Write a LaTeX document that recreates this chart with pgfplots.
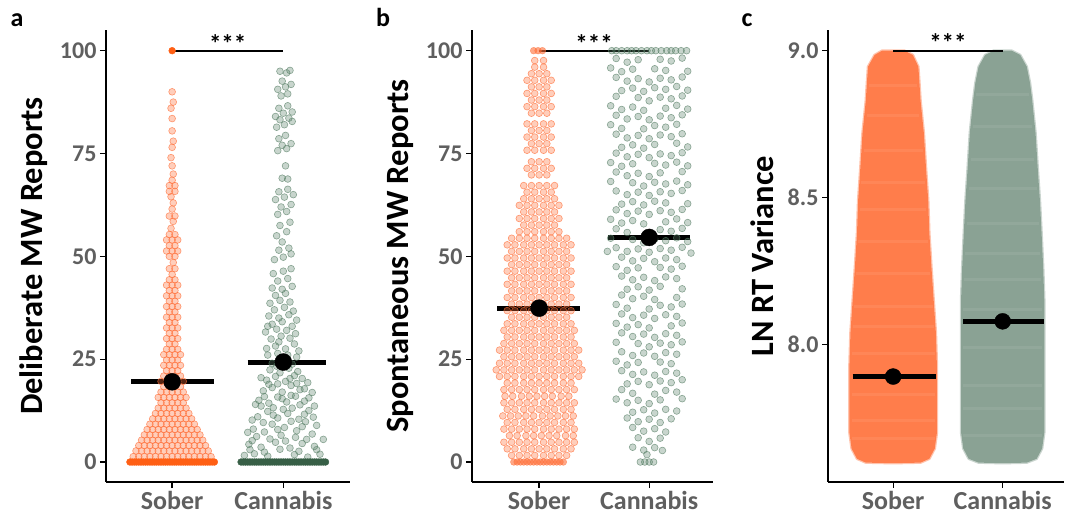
\documentclass[border=0pt]{standalone}
\usepackage{pgfplots}
\pgfplotsset{compat=1.18}
\usepackage{fontspec}
\setmainfont{Carlito}
\definecolor{sober}{RGB}{255,110,55}
\definecolor{soberdark}{RGB}{255,95,20}
\definecolor{canna}{RGB}{85,125,100}
\definecolor{cannadark}{RGB}{55,95,70}
\definecolor{soberfill}{RGB}{255,125,75}
\definecolor{cannafill}{RGB}{138,162,148}
\definecolor{tickgray}{RGB}{95,95,95}
\newcommand\tickfont{\fontsize{24}{24}\selectfont\bfseries}
\newcommand\xtickfont{\fontsize{26}{26}\selectfont\bfseries}
\newcommand\labfont{\fontsize{32.5}{32.5}\selectfont\bfseries}
\newcommand\starfont{\fontsize{25}{25}\selectfont\bfseries}
\newcommand\panfont{\fontsize{26}{26}\selectfont\bfseries}
\pgfplotsset{
  panel/.style={scale only axis, height=452pt, anchor=south west,
    axis x line*=bottom, axis y line*=left,
    axis line style={line width=1.3pt, black},
    tick style={line width=1.3pt, black},
    major tick length=6pt, tick align=outside,
    xtick={1,2}, xticklabels={Sober,Cannabis},
    yticklabel style={font=\tickfont, text=tickgray},
    xticklabel style={font=\xtickfont, text=tickgray},
    unbounded coords=jump,
    clip=false},
  sobpts/.style={only marks, mark=*, mark size=3.4pt, draw=sober, fill=sober, fill opacity=0.34, draw opacity=0.68, line width=0.6pt},
  canpts/.style={only marks, mark=*, mark size=3.4pt, draw=canna, fill=canna, fill opacity=0.32, draw opacity=0.65, line width=0.6pt},
}
\begin{document}
\begin{tikzpicture}
\path[use as bounding box] (0,0) rectangle (1067pt,516pt);
\node[font=\panfont, anchor=base] at (17pt,489pt) {a};
\node[font=\panfont, anchor=base] at (383pt,489pt) {b};
\node[font=\panfont, anchor=base] at (747pt,489pt) {c};

% ---------------- panel a ----------------
\begin{axis}[panel, at={(106pt,34pt)}, width=244pt,
  xmin=0.405, xmax=2.6, ymin=-4.86, ymax=105.03,
  ytick={0,25,50,75,100}, yticklabels={0,25,50,75,100},
  ylabel={Deliberate MW Reports},
  every axis y label/.style={at={(axis description cs:-0.295,0.5)}, rotate=90, anchor=center, font=\labfont}]
\addplot[sobpts] coordinates {
(0.65,1.3)(0.70,1.3)(0.75,1.3)(0.80,1.3)(0.85,1.3)(0.90,1.3)(0.95,1.3)(1,1.3)(1.05,1.3)(1.10,1.3)(1.15,1.3)(1.20,1.3)(1.25,1.3)(1.30,1.3)(1.35,1.3)
(0.675,2.7)(0.725,2.7)(0.775,2.7)(0.825,2.7)(0.875,2.7)(0.925,2.7)(0.975,2.7)(1.025,2.7)(1.075,2.7)(1.125,2.7)(1.175,2.7)(1.225,2.7)(1.275,2.7)(1.325,2.7)
(0.70,4)(0.75,4)(0.80,4)(0.85,4)(0.90,4)(0.95,4)(1,4)(1.05,4)(1.10,4)(1.15,4)(1.20,4)(1.25,4)(1.30,4)
(0.725,5.3)(0.775,5.3)(0.825,5.3)(0.875,5.3)(0.925,5.3)(0.975,5.3)(1.025,5.3)(1.075,5.3)(1.125,5.3)(1.175,5.3)(1.225,5.3)(1.275,5.3)
(0.75,6.6)(0.80,6.6)(0.85,6.6)(0.90,6.6)(0.95,6.6)(1,6.6)(1.05,6.6)(1.10,6.6)(1.15,6.6)(1.20,6.6)(1.25,6.6)
(0.775,7.9)(0.825,7.9)(0.875,7.9)(0.925,7.9)(0.975,7.9)(1.025,7.9)(1.075,7.9)(1.125,7.9)(1.175,7.9)(1.225,7.9)
(0.80,9.2)(0.85,9.2)(0.90,9.2)(0.95,9.2)(1,9.2)(1.05,9.2)(1.10,9.2)(1.15,9.2)(1.20,9.2)
(0.825,10.5)(0.875,10.5)(0.925,10.5)(0.975,10.5)(1.025,10.5)(1.075,10.5)(1.125,10.5)(1.175,10.5)
(0.85,11.8)(0.90,11.8)(0.95,11.8)(1,11.8)(1.05,11.8)(1.10,11.8)(1.15,11.8)
(0.875,13.1)(0.925,13.1)(0.975,13.1)(1.025,13.1)(1.075,13.1)(1.125,13.1)
(0.90,14.4)(0.95,14.4)(1,14.4)(1.05,14.4)(1.10,14.4)
(0.875,15.7)(0.925,15.7)(0.975,15.7)(1.025,15.7)(1.075,15.7)(1.125,15.7)
(0.90,17)(0.95,17)(1,17)(1.05,17)(1.10,17)
(0.925,18.3)(0.975,18.3)(1.025,18.3)(1.075,18.3)
(0.90,19.6)(0.95,19.6)(1,19.6)(1.05,19.6)(1.10,19.6)
(0.925,20.9)(0.975,20.9)(1.025,20.9)(1.075,20.9)
(0.95,22.2)(1,22.2)(1.05,22.2)
(0.925,23.5)(0.975,23.5)(1.025,23.5)(1.075,23.5)
(0.95,24.8)(1,24.8)(1.05,24.8)
(0.925,26.1)(0.975,26.1)(1.025,26.1)(1.075,26.1)
(0.95,27.4)(1,27.4)(1.05,27.4)
(0.975,28.7)(1.025,28.7)
(0.95,30)(1,30)(1.05,30)
(0.975,31.3)(1.025,31.3)
(0.95,32.6)(1,32.6)(1.05,32.6)
(0.975,33.9)(1.025,33.9)
(0.95,35.2)(1,35.2)(1.05,35.2)
(0.975,36.5)(1.025,36.5)
(0.95,37.8)(1,37.8)(1.05,37.8)
(0.975,39.1)(1.025,39.1)
(0.95,40.4)(1,40.4)(1.05,40.4)
(0.975,41.7)(1.025,41.7)
(0.95,43)(1,43)(1.05,43)
(0.975,44.3)(1.025,44.3)
(1,45.6)(0.975,47)(1.025,47)(1.01,48.5)(0.975,50)(1.025,50)
(0.95,51.3)(1,51.3)(1.05,51.3)(0.975,52.6)(1.025,52.6)
(0.95,54)(1,54)(1.05,54)(0.975,55.3)(1.025,55.3)
(0.99,56.8)(1.01,58.5)(0.975,59.8)(1.025,59.8)(1,61.5)(1.01,63)(0.99,64.5)(0.975,65.8)(1.025,65.8)(0.975,67.2)(1.025,67.2)(1,68.5)(1.01,70)(1,72)(0.99,74)(1,76.5)(1.01,78)(1,80.5)(1,83.5)(0.99,86)(1.01,87.5)(1,90)
};
\addplot[only marks, mark=*, mark size=3.4pt, draw=soberdark, fill=soberdark] coordinates {
(0.62,0)(0.64,0)(0.66,0)(0.68,0)(0.70,0)(0.72,0)(0.74,0)(0.76,0)(0.78,0)(0.80,0)(0.82,0)(0.84,0)(0.86,0)(0.88,0)(0.90,0)(0.92,0)(0.94,0)(0.96,0)(0.98,0)(1,0)(1.02,0)(1.04,0)(1.06,0)(1.08,0)(1.10,0)(1.12,0)(1.14,0)(1.16,0)(1.18,0)(1.20,0)(1.22,0)(1.24,0)(1.26,0)(1.28,0)(1.30,0)(1.32,0)(1.34,0)(1.36,0)(1.38,0)
(1,100)};
\addplot[canpts] coordinates {
(1.65,1.6)(1.74,2.0)(1.86,1.4)(2.10,1.8)(2.22,1.2)(2.33,1.9)(1.69,4.3)(1.80,3.6)(1.93,4.8)(2.06,3.4)(2.17,4.5)(2.28,3.8)(2.36,5.5)(1.76,6.2)(1.98,6.5)(2.26,6.8)
(1.70,3.0)(1.83,2.4)(1.97,3.1)(2.14,2.6)(2.30,3.0)(1.72,5.2)(1.88,5.6)(2.02,5.1)(2.11,6.0)(2.21,5.5)
(1.73,8.0)(1.83,7.3)(1.90,9.2)(2.01,8.4)(2.12,7.6)(2.20,9.8)(2.30,8.9)(1.77,11.0)(1.86,12.3)(1.95,10.7)(2.04,11.8)(2.14,10.4)(2.23,12.5)(2.08,13.1)(1.80,13.6)
(1.68,7.2)(1.95,7.9)(2.07,9.9)(2.17,8.6)(2.27,10.9)(1.82,9.6)(1.72,10.2)(1.91,11.4)(2.00,12.8)(2.19,11.6)(2.28,13.6)(1.75,14.0)(1.91,13.2)(2.15,13.9)
(1.78,15.0)(1.87,14.3)(1.95,15.8)(2.03,14.6)(2.11,16.0)(2.19,14.8)(2.26,16.9)(1.82,17.3)(1.90,18.1)(1.99,17.0)(2.07,18.6)(2.15,17.6)(2.22,19.3)(1.85,19.9)(1.93,20.8)(2.02,19.6)(2.10,21.0)(2.17,20.3)(1.88,22.4)(1.97,21.7)(2.05,22.8)(2.13,22.0)
(2.23,15.6)(1.83,15.9)(1.99,15.4)(2.07,16.2)(1.87,18.9)(1.95,19.0)(2.12,19.1)(2.19,17.8)(1.80,20.5)(2.06,20.3)
(1.90,24.0)(1.99,25.1)(2.08,23.8)(1.95,26.4)(2.04,26.0)(2.12,25.5)(1.94,23.3)(2.03,23.5)(1.86,26.0)(2.14,27.0)(1.96,29.2)(2.08,33.0)(1.86,33.0)
(1.85,27.6)(1.93,28.2)(2.02,27.5)(2.10,28.7)(1.89,29.9)(1.98,30.6)(2.06,30.1)(1.84,31.6)(1.94,32.3)(2.03,32.0)(2.11,31.2)(1.90,33.5)(1.99,34.1)
(1.87,35.5)(1.96,35.0)(2.05,35.8)(2.12,34.5)(1.92,37.0)(2.01,37.6)(2.09,36.7)(1.88,38.6)(1.97,39.3)(2.06,38.9)(1.93,40.5)(2.02,41.0)
(1.90,42.3)(1.99,42.0)(2.08,42.7)(1.95,44.0)(2.04,44.6)(1.91,45.8)(2.00,46.4)(2.07,47.0)
(1.92,49.2)(2.00,49.8)(2.07,50.6)(1.96,51.5)(2.05,52.0)(1.99,53.5)(1.94,55.0)(2.03,56.0)(1.97,57.5)(2.06,58.3)
(1.95,60.2)(2.03,60.9)(1.98,62.0)(2.07,62.6)(1.93,63.8)(2.01,64.4)(2.09,65.0)(1.96,65.7)(2.04,66.3)
(1.99,69.0)(2.04,68.8)(2.02,72.0)
(1.95,75.7)(2.03,76.2)(1.99,77.0)(2.07,77.4)(1.96,78.6)(2.02,79.4)
(1.94,81.4)(2.01,82.0)(2.08,82.8)(1.97,83.2)(2.05,83.6)(1.93,84.0)(2.00,84.8)(2.08,85.1)(1.96,86.0)(2.04,86.6)
(1.98,89.0)(2.04,89.5)(1.95,90.6)(2.02,91.2)(2.07,91.8)(1.99,92.6)(1.97,95.0)(2.03,94.6)(2.06,95.2)
};
\addplot[only marks, mark=*, mark size=3.4pt, draw=cannadark, fill=cannadark] coordinates {
(1.62,0)(1.64,0)(1.66,0)(1.68,0)(1.70,0)(1.72,0)(1.74,0)(1.76,0)(1.78,0)(1.80,0)(1.82,0)(1.84,0)(1.86,0)(1.88,0)(1.90,0)(1.92,0)(1.94,0)(1.96,0)(1.98,0)(2,0)(2.02,0)(2.04,0)(2.06,0)(2.08,0)(2.10,0)(2.12,0)(2.14,0)(2.16,0)(2.18,0)(2.20,0)(2.22,0)(2.24,0)(2.26,0)(2.28,0)(2.30,0)(2.32,0)(2.34,0)(2.36,0)(2.38,0)};
\addplot[black, line width=5pt] coordinates {(0.63,19.5)(1.38,19.5)};
\addplot[black, line width=5pt] coordinates {(1.68,24.3)(2.38,24.3)};
\addplot[only marks, mark=*, mark size=8.5pt, black] coordinates {(1,19.5)(2,24.3)};
\draw[line width=2pt] (axis cs:1,100) -- (axis cs:2,100);
\node[font=\starfont, anchor=base] at (axis cs:1.5,99.5) {***};
\end{axis}

% ---------------- panel b ----------------
\begin{axis}[panel, at={(472pt,34pt)}, width=241pt,
  xmin=0.39, xmax=2.58, ymin=-4.86, ymax=105.03,
  ytick={0,25,50,75,100}, yticklabels={0,25,50,75,100},
  ylabel={Spontaneous MW Reports},
  every axis y label/.style={at={(axis description cs:-0.299,0.5)}, rotate=90, anchor=center, font=\labfont}]
\addplot[sobpts] coordinates {
(0.75,1.6)(0.82,1.6)(0.89,1.6)(0.96,1.6)(1.04,1.6)(1.11,1.6)(1.18,1.6)(1.25,1.6)
(0.71,3.2)(0.78,3.2)(0.86,3.2)(0.93,3.2)(1,3.2)(1.07,3.2)(1.14,3.2)(1.22,3.2)(1.29,3.2)
(0.68,4.8)(0.75,4.8)(0.82,4.8)(0.89,4.8)(0.96,4.8)(1.04,4.8)(1.11,4.8)(1.18,4.8)(1.25,4.8)(1.32,4.8)
(0.73,6.4)(0.80,6.4)(0.88,6.4)(0.95,6.4)(1.02,6.4)(1.09,6.4)(1.16,6.4)(1.24,6.4)(1.31,6.4)
(0.68,8)(0.75,8)(0.82,8)(0.89,8)(0.96,8)(1.04,8)(1.11,8)(1.18,8)(1.25,8)(1.32,8)
(0.71,9.6)(0.78,9.6)(0.86,9.6)(0.93,9.6)(1,9.6)(1.07,9.6)(1.14,9.6)(1.22,9.6)(1.29,9.6)
(0.67,11.2)(0.74,11.2)(0.81,11.2)(0.88,11.2)(0.95,11.2)(1.03,11.2)(1.10,11.2)(1.17,11.2)(1.24,11.2)(1.31,11.2)
(0.71,12.8)(0.78,12.8)(0.86,12.8)(0.93,12.8)(1,12.8)(1.07,12.8)(1.14,12.8)(1.22,12.8)(1.29,12.8)
(0.68,14.4)(0.75,14.4)(0.82,14.4)(0.89,14.4)(0.96,14.4)(1.04,14.4)(1.11,14.4)(1.18,14.4)(1.25,14.4)(1.32,14.4)
(0.69,16)(0.76,16)(0.84,16)(0.91,16)(0.98,16)(1.05,16)(1.12,16)(1.20,16)(1.27,16)
(0.68,17.6)(0.75,17.6)(0.82,17.6)(0.89,17.6)(0.96,17.6)(1.04,17.6)(1.11,17.6)(1.18,17.6)(1.25,17.6)(1.32,17.6)
(0.71,19.2)(0.78,19.2)(0.86,19.2)(0.93,19.2)(1,19.2)(1.07,19.2)(1.14,19.2)(1.22,19.2)(1.29,19.2)
(0.64,20.8)(0.71,20.8)(0.78,20.8)(0.86,20.8)(0.93,20.8)(1,20.8)(1.07,20.8)(1.14,20.8)(1.22,20.8)(1.29,20.8)(1.36,20.8)
(0.61,22.4)(0.68,22.4)(0.75,22.4)(0.82,22.4)(0.89,22.4)(0.96,22.4)(1.04,22.4)(1.11,22.4)(1.18,22.4)(1.25,22.4)(1.32,22.4)(1.39,22.4)
(0.64,24)(0.71,24)(0.78,24)(0.86,24)(0.93,24)(1,24)(1.07,24)(1.14,24)(1.22,24)(1.29,24)(1.36,24)
(0.68,25.6)(0.75,25.6)(0.82,25.6)(0.89,25.6)(0.96,25.6)(1.04,25.6)(1.11,25.6)(1.18,25.6)(1.25,25.6)(1.32,25.6)
(0.64,27.2)(0.71,27.2)(0.78,27.2)(0.86,27.2)(0.93,27.2)(1,27.2)(1.07,27.2)(1.14,27.2)(1.22,27.2)(1.29,27.2)(1.36,27.2)
(0.68,28.8)(0.75,28.8)(0.82,28.8)(0.89,28.8)(0.96,28.8)(1.04,28.8)(1.11,28.8)(1.18,28.8)(1.25,28.8)(1.32,28.8)
(0.71,30.4)(0.78,30.4)(0.86,30.4)(0.93,30.4)(1,30.4)(1.07,30.4)(1.14,30.4)(1.22,30.4)(1.29,30.4)
(0.68,32)(0.75,32)(0.82,32)(0.89,32)(0.96,32)(1.04,32)(1.11,32)(1.18,32)(1.25,32)(1.32,32)
(0.71,33.6)(0.78,33.6)(0.86,33.6)(0.93,33.6)(1,33.6)(1.07,33.6)(1.14,33.6)(1.22,33.6)(1.29,33.6)
(0.75,35.2)(0.82,35.2)(0.89,35.2)(0.96,35.2)(1.04,35.2)(1.11,35.2)(1.18,35.2)(1.25,35.2)
(0.71,36.8)(0.78,36.8)(0.86,36.8)(0.93,36.8)(1,36.8)(1.07,36.8)(1.14,36.8)(1.22,36.8)(1.29,36.8)
(0.75,38.4)(0.82,38.4)(0.89,38.4)(0.96,38.4)(1.04,38.4)(1.11,38.4)(1.18,38.4)(1.25,38.4)
(0.71,40)(0.78,40)(0.86,40)(0.93,40)(1,40)(1.07,40)(1.14,40)(1.22,40)(1.29,40)
(0.75,41.6)(0.82,41.6)(0.89,41.6)(0.96,41.6)(1.04,41.6)(1.11,41.6)(1.18,41.6)(1.25,41.6)
(0.71,43.2)(0.78,43.2)(0.86,43.2)(0.93,43.2)(1,43.2)(1.07,43.2)(1.14,43.2)(1.22,43.2)(1.29,43.2)
(0.75,44.8)(0.82,44.8)(0.89,44.8)(0.96,44.8)(1.04,44.8)(1.11,44.8)(1.18,44.8)(1.25,44.8)
(0.71,46.4)(0.78,46.4)(0.86,46.4)(0.93,46.4)(1,46.4)(1.07,46.4)(1.14,46.4)(1.22,46.4)(1.29,46.4)
(0.75,48)(0.82,48)(0.89,48)(0.96,48)(1.04,48)(1.11,48)(1.18,48)(1.25,48)
(0.71,49.6)(0.78,49.6)(0.86,49.6)(0.93,49.6)(1,49.6)(1.07,49.6)(1.14,49.6)(1.22,49.6)(1.29,49.6)
(0.75,51.2)(0.82,51.2)(0.89,51.2)(0.96,51.2)(1.04,51.2)(1.11,51.2)(1.18,51.2)(1.25,51.2)
(0.71,52.8)(0.78,52.8)(0.86,52.8)(0.93,52.8)(1,52.8)(1.07,52.8)(1.14,52.8)(1.22,52.8)(1.29,52.8)
(0.75,54.4)(0.82,54.4)(0.89,54.4)(0.96,54.4)(1.04,54.4)(1.11,54.4)(1.18,54.4)(1.25,54.4)
(0.82,56)(0.89,56)(0.96,56)(1.04,56)(1.11,56)(1.18,56)
(0.86,57.6)(0.93,57.6)(1,57.6)(1.07,57.6)(1.14,57.6)
(0.82,59.2)(0.89,59.2)(0.96,59.2)(1.04,59.2)(1.11,59.2)(1.18,59.2)
(0.86,60.8)(0.93,60.8)(1,60.8)(1.07,60.8)(1.14,60.8)
(0.82,62.4)(0.89,62.4)(0.96,62.4)(1.04,62.4)(1.11,62.4)(1.18,62.4)
(0.86,64)(0.93,64)(1,64)(1.07,64)(1.14,64)
(0.89,65.6)(0.96,65.6)(1.04,65.6)(1.11,65.6)
(0.86,67.2)(0.93,67.2)(1,67.2)(1.07,67.2)(1.14,67.2)
(0.93,69.8)(1,69.8)(1.07,69.8)
(0.89,71.4)(0.96,71.4)(1.04,71.4)(1.11,71.4)
(0.93,73)(1,73)(1.07,73)
(0.89,75.8)(0.96,75.8)(1.04,75.8)(1.11,75.8)
(0.93,77.4)(1,77.4)(1.07,77.4)
(0.89,79)(0.96,79)(1.04,79)(1.11,79)
(0.93,80.6)(1,80.6)(1.07,80.6)
(0.89,82.2)(0.96,82.2)(1.04,82.2)(1.11,82.2)
(0.93,84.8)(1,84.8)(1.07,84.8)
(0.89,86.4)(0.96,86.4)(1.04,86.4)(1.11,86.4)
(0.93,88)(1,88)(1.07,88)
(0.89,89.6)(0.96,89.6)(1.04,89.6)(1.11,89.6)
(0.93,91.2)(1,91.2)(1.07,91.2)
(0.89,92.8)(0.96,92.8)(1.04,92.8)(1.11,92.8)
(0.93,94.4)(1,94.4)(1.07,94.4)
(0.96,96)(1.04,96)(0.96,97.6)(1.04,97.6)
};
\addplot[only marks, mark=*, mark size=3.4pt, draw=sober, fill=sober, fill opacity=0.6, draw opacity=0.6] coordinates {
(0.77,0)(0.80,0)(0.83,0)(0.86,0)(0.89,0)(0.92,0)(0.95,0)(0.98,0)(1.01,0)(1.04,0)(1.07,0)(1.10,0)(1.13,0)(1.16,0)(1.19,0)(1.22,0)
(0.95,100)(0.99,100)(1.03,100)};
\addplot[canpts] coordinates {
(1.66,100)(1.70,100)(1.75,100)(1.80,100)(1.84,100)(1.88,100)(1.93,100)(1.98,100)(2.02,100)(2.06,100)(2.11,100)(2.16,100)(2.20,100)(2.24,100)(2.29,100)(2.34,100)
(1.70,98.1)(1.80,97.2)(1.90,97.8)(2.10,97.9)(2.20,97.5)(2.30,98.2)
(1.65,95.8)(1.75,94.9)(1.85,95.5)(2.05,95.6)(2.15,95.2)(2.35,95.0)
(1.70,93.5)(1.80,92.6)(1.90,93.2)(2.00,92.4)(2.10,93.3)(2.20,92.9)(2.30,93.6)
(1.75,90.3)(1.85,90.9)(1.95,90.1)(2.05,91.0)(2.15,90.6)(2.25,91.3)(2.35,90.4)
(1.70,88.9)(1.90,88.6)(2.00,87.8)(2.10,88.7)(2.20,88.3)(2.30,89.0)
(1.65,86.6)(1.75,85.7)(1.85,86.3)(1.95,85.5)(2.15,86.0)(2.25,86.7)(2.35,85.8)
(1.70,84.3)(1.80,83.4)(1.90,84.0)(2.00,83.2)(2.10,84.1)(2.20,83.7)(2.30,84.4)
(1.65,82.0)(1.75,81.1)(1.95,81.0)(2.05,81.8)(2.15,81.4)(2.25,82.1)
(1.70,79.7)(1.80,78.8)(1.90,79.4)(2.00,78.6)(2.10,79.5)(2.20,79.1)(2.30,79.8)
(1.75,76.5)(1.85,77.1)(1.95,76.3)(2.05,77.2)(2.25,77.5)(2.35,76.6)
(1.70,75.1)(1.80,74.2)(1.90,74.8)(2.00,74.0)(2.10,74.9)(2.20,74.5)(2.30,75.2)
(1.65,72.8)(1.75,71.9)(1.85,72.5)(2.05,72.6)(2.15,72.2)(2.25,72.9)(2.35,72.0)
(1.70,70.5)(1.80,69.6)(1.90,70.2)(2.00,69.4)(2.10,70.3)(2.30,70.6)
(1.65,68.2)(1.85,67.9)(1.95,67.1)(2.05,68.0)(2.15,67.6)(2.25,68.3)(2.35,67.4)
(1.70,65.9)(1.80,65.0)(1.90,65.6)(2.00,64.8)(2.10,65.7)(2.20,65.3)(2.30,66.0)
(1.75,62.7)(1.85,63.3)(1.95,62.5)(2.05,63.4)(2.15,63.0)(2.35,62.8)
(1.70,61.3)(1.80,60.4)(1.90,61.0)(2.00,60.2)(2.10,61.1)(2.20,60.7)(2.30,61.4)
(1.65,59.0)(1.75,58.1)(1.85,58.7)(1.95,57.9)(2.15,58.4)(2.25,59.1)(2.35,58.2)
(1.70,56.7)(1.80,55.8)(2.00,55.6)(2.10,56.5)(2.20,56.1)(2.30,56.8)
(1.65,54.4)(1.85,54.1)(1.95,53.3)(2.05,54.2)(2.15,53.8)(2.25,54.5)(2.35,53.6)
(1.62,51.2)(1.70,52.1)(1.80,51.2)(1.90,51.8)(2.00,51.0)(2.10,51.9)(2.20,51.5)(2.30,52.2)(2.38,50.8)
(1.75,49.8)(1.85,48.9)(1.95,49.5)(2.05,48.7)(2.15,49.6)(2.25,49.2)
(1.70,47.5)(1.80,46.6)(1.90,47.2)(2.10,47.3)(2.20,46.9)(2.30,47.6)
(1.75,45.2)(1.85,44.3)(1.95,44.9)(2.05,44.1)(2.15,45.0)(2.25,44.6)
(1.80,42.0)(1.90,42.6)(2.00,41.8)(2.10,42.7)(2.30,42.1)
(1.75,40.6)(1.85,39.7)(1.95,40.3)(2.05,39.5)(2.25,40.0)
(1.70,38.3)(1.80,37.4)(2.00,37.2)(2.10,38.1)(2.20,37.7)(2.30,38.4)
(1.75,36.0)(1.85,35.1)(1.95,35.7)(2.05,34.9)(2.15,35.8)(2.25,35.4)
(1.70,33.7)(1.80,32.8)(1.90,33.4)(2.00,32.6)(2.20,33.1)(2.30,33.8)
(1.75,31.4)(1.85,30.5)(1.95,31.1)(2.05,30.3)(2.15,31.2)(2.25,30.8)
(1.70,29.1)(1.90,28.8)(2.00,28.0)(2.10,28.9)(2.20,28.5)(2.30,29.2)
(1.75,26.8)(1.85,25.9)(1.95,26.5)(2.05,25.7)(2.15,26.6)(2.25,26.2)
(1.70,24.5)(1.80,23.6)(1.90,24.2)(2.10,24.3)(2.20,23.9)
(1.75,22.2)(1.85,21.3)(1.95,21.9)(2.05,21.1)(2.15,22.0)(2.25,21.6)
(1.80,19.0)(1.90,19.6)(2.00,18.8)(2.10,19.7)(2.20,19.3)(2.30,20.0)
(1.75,17.6)(1.85,16.7)(2.05,16.5)(2.15,17.4)(2.25,17.0)
(1.70,15.3)(1.80,14.4)(1.90,15.0)(2.00,14.2)(2.10,15.1)(2.30,15.4)
(1.85,12.1)(1.95,12.7)(2.05,11.9)(2.15,12.8)(2.25,12.4)
(1.80,10.7)(1.90,9.8)(2.00,10.4)(2.10,9.6)(2.20,10.5)
(1.85,8.4)(1.95,7.5)(2.05,8.1)(2.15,7.3)
(1.90,5.9)(2.00,5.0)(2.10,5.8)
(1.85,3.6)(1.95,2.9)(2.05,3.5)(2.12,2.8)
(1.98,1.8)
(1.92,0)(1.96,0)(2.00,0)(2.04,0)
};
\addplot[black, line width=5pt] coordinates {(0.62,37.4)(1.37,37.4)};
\addplot[black, line width=5pt] coordinates {(1.63,54.6)(2.37,54.6)};
\addplot[only marks, mark=*, mark size=8.5pt, black] coordinates {(1,37.4)(2,54.6)};
\draw[line width=2pt] (axis cs:1,100) -- (axis cs:2,100);
\node[font=\starfont, anchor=base] at (axis cs:1.5,99.5) {***};
\end{axis}

% ---------------- panel c ----------------
\begin{axis}[panel, at={(828pt,34pt)}, width=236pt,
  xmin=0.405, xmax=2.56, ymin=7.531, ymax=9.07,
  ytick={8,8.5,9}, yticklabels={8.0,8.5,9.0},
  ylabel={LN RT Variance},
  every axis y label/.style={at={(axis description cs:-0.28,0.5)}, rotate=90, anchor=center, font=\labfont}]
\addplot[fill=soberfill, draw=soberfill, draw opacity=0.45, line width=2.5pt, line join=round] coordinates {
(1.0,7.595)(1.25,7.597)(1.33,7.61)(1.38,7.645)(1.40,7.70)(1.40,7.81)(1.40,7.92)(1.39,8.04)(1.37,8.15)(1.35,8.26)(1.33,8.38)(1.32,8.49)(1.30,8.60)(1.28,8.72)(1.25,8.83)(1.24,8.89)(1.23,8.945)(1.18,8.985)(1.10,9.0)(0.90,9.0)(0.83,8.985)(0.77,8.945)(0.76,8.89)(0.75,8.83)(0.72,8.72)(0.70,8.60)(0.68,8.49)(0.67,8.38)(0.65,8.26)(0.63,8.15)(0.61,8.04)(0.60,7.92)(0.60,7.81)(0.60,7.70)(0.62,7.645)(0.67,7.61)(0.75,7.597)} -- cycle;
\addplot[fill=cannafill, draw=cannafill, draw opacity=0.45, line width=2.5pt, line join=round] coordinates {
(2.0,7.595)(2.22,7.597)(2.31,7.61)(2.36,7.645)(2.38,7.70)(2.38,7.81)(2.38,7.92)(2.38,8.04)(2.38,8.15)(2.37,8.26)(2.355,8.38)(2.34,8.49)(2.32,8.60)(2.30,8.72)(2.27,8.83)(2.25,8.889)(2.22,8.945)(2.16,8.985)(2.08,9.0)(1.92,9.0)(1.84,8.985)(1.78,8.945)(1.75,8.889)(1.73,8.83)(1.70,8.72)(1.68,8.60)(1.66,8.49)(1.645,8.38)(1.63,8.26)(1.62,8.15)(1.62,8.04)(1.62,7.92)(1.62,7.81)(1.62,7.70)(1.64,7.645)(1.69,7.61)(1.78,7.597)} -- cycle;
\addplot[white, opacity=0.07, line width=3pt] coordinates {
(0.62,7.68)(1.38,7.68)(nan,nan)(0.62,7.74)(1.38,7.74)(nan,nan)(0.62,7.83)(1.38,7.83)(nan,nan)(0.62,7.97)(1.38,7.97)(nan,nan)(0.63,8.06)(1.37,8.06)(nan,nan)(0.64,8.13)(1.36,8.13)(nan,nan)(0.66,8.24)(1.34,8.24)(nan,nan)(0.68,8.35)(1.32,8.35)(nan,nan)(0.70,8.46)(1.30,8.46)(nan,nan)(0.71,8.55)(1.29,8.55)(nan,nan)(0.73,8.66)(1.27,8.66)(nan,nan)(0.76,8.78)(1.24,8.78)(nan,nan)(0.78,8.88)(1.22,8.88)};
\addplot[white, opacity=0.07, line width=3pt] coordinates {
(1.64,7.69)(2.36,7.69)(nan,nan)(1.64,7.78)(2.36,7.78)(nan,nan)(1.64,7.86)(2.36,7.86)(nan,nan)(1.64,7.99)(2.36,7.99)(nan,nan)(1.64,8.12)(2.36,8.12)(nan,nan)(1.65,8.22)(2.35,8.22)(nan,nan)(1.66,8.31)(2.34,8.31)(nan,nan)(1.67,8.41)(2.33,8.41)(nan,nan)(1.69,8.53)(2.31,8.53)(nan,nan)(1.71,8.63)(2.29,8.63)(nan,nan)(1.73,8.74)(2.27,8.74)(nan,nan)(1.76,8.85)(2.24,8.85)};
\addplot[black, line width=5pt] coordinates {(0.63,7.89)(1.39,7.89)};
\addplot[black, line width=5pt] coordinates {(1.64,8.078)(2.38,8.078)};
\addplot[only marks, mark=*, mark size=8pt, black] coordinates {(1,7.89)(2,8.078)};
\draw[line width=2pt] (axis cs:1,9) -- (axis cs:2,9);
\node[font=\starfont, anchor=base] at (axis cs:1.5,8.997) {***};
\end{axis}
\end{tikzpicture}
\end{document}
